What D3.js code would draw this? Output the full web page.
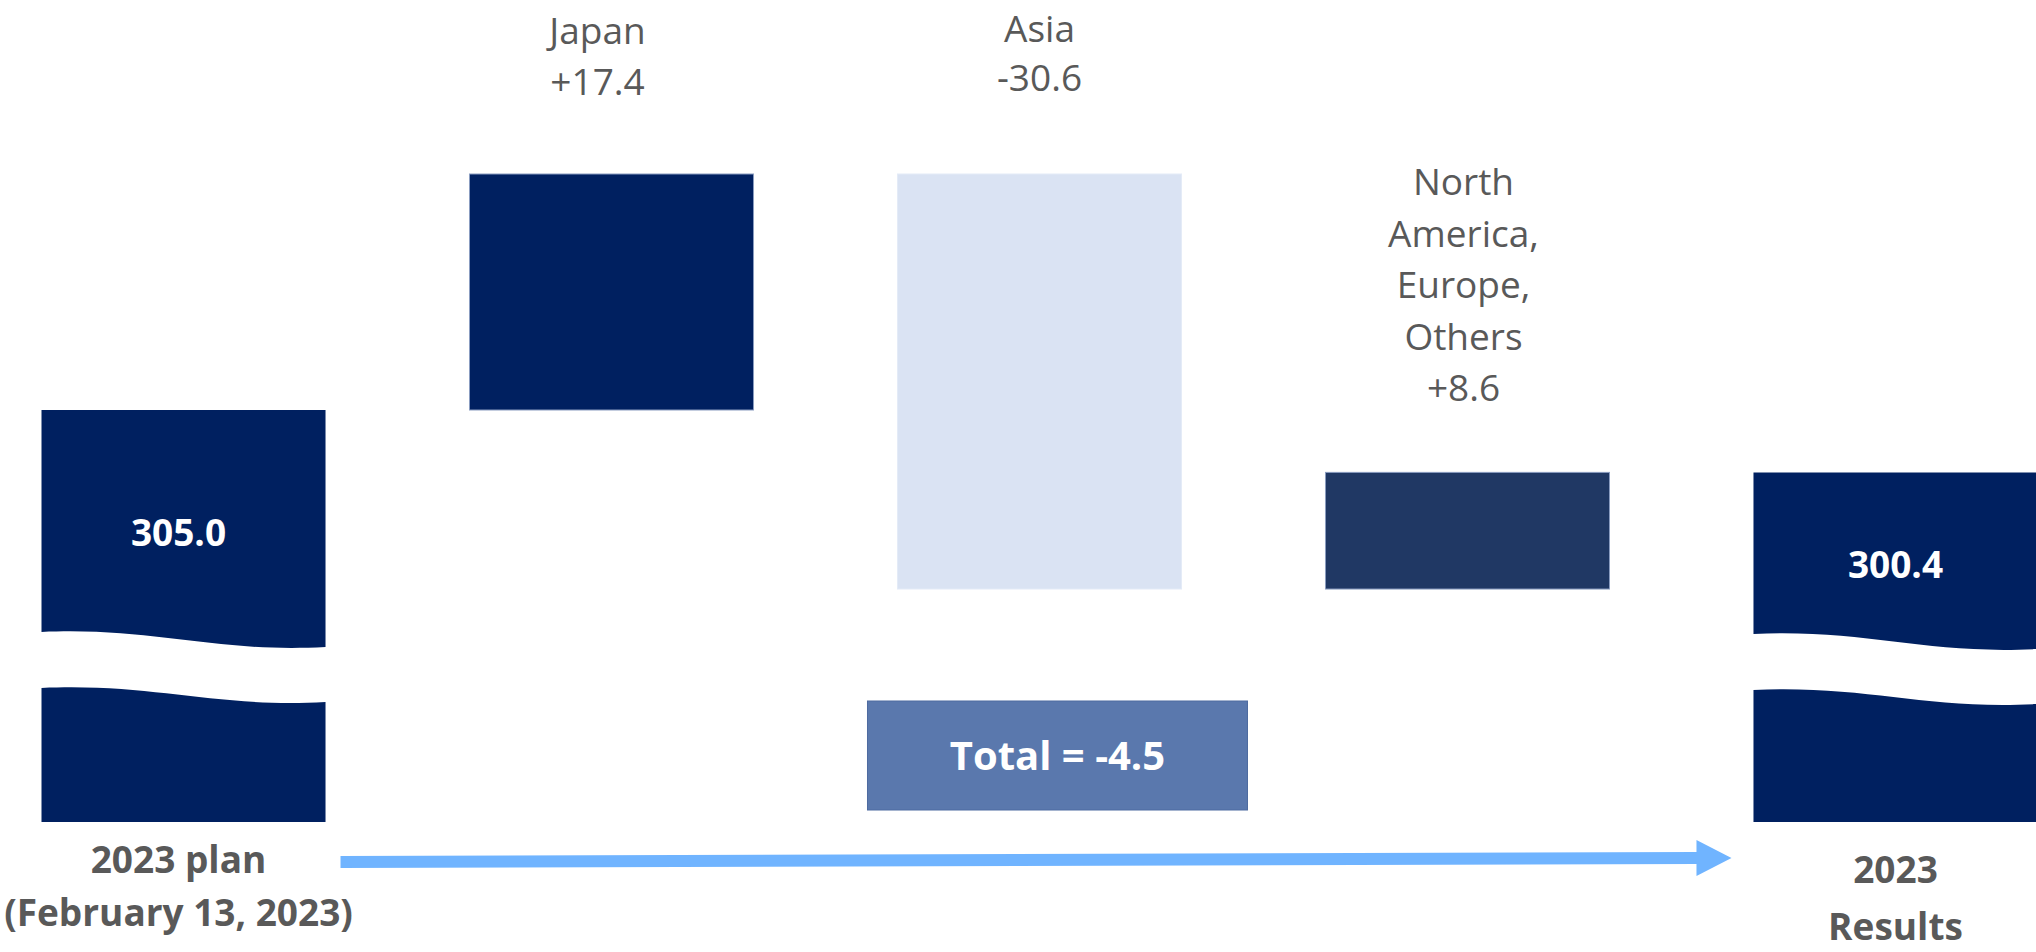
<!DOCTYPE html>
<html>
<head>
<meta charset="utf-8">
<script src="https://cdn.jsdelivr.net/npm/d3@7"></script>
<style>
  html, body { margin: 0; padding: 0; background: #fff; overflow: hidden; }
  svg { display: block; font-family: "Open Sans", sans-serif; }
</style>
</head>
<body>
<div id="container"></div>
<script>
// data
var categories = ['plan', 'Japan', 'Asia', 'Others', 'results']
var planValue = 305.0
var resultValue = 300.4
var deltas = [17.4, -30.6, 8.6]
var deltaLabels = [['Japan', '+17.4'], ['Asia', '-30.6'], ['North', 'America,', 'Europe,', 'Others', '+8.6']]
var endLabels = [['2023 plan', '(February 13, 2023)'], ['2023', 'Results']]
var endValueText = ['305.0', '300.4']
var totalText = 'Total = -4.5'

var width = 2036, height = 952
var svg = d3.select('#container').append('svg').attr('width', width).attr('height', height)

var x = d3.scaleBand().domain(categories).range([41.5, 2037.5]).paddingInner(0.3364).paddingOuter(0)
var y = d3.scaleLinear().domain([305, 322.4]).range([410, 174])
var bw = x.bandwidth()
var baseY = 822 // bottom of the broken bars

var navy = '#002060'
var grey = '#595959'

// running totals for the waterfall
var steps = []
var run = planValue
deltas.forEach(function (d, i) {
  steps.push({ cat: categories[i + 1], from: run, to: run + d, delta: d, label: deltaLabels[i] })
  run += d
})
var stepColors = ['#002060', '#dae3f3', '#203864']
var stepStroke = ['#8a9cc0', '#e4ebf7', '#8a9cc0']

svg.selectAll('rect.step')
  .data(steps)
  .enter()
  .append('rect')
  .attr('class', 'step')
  .attr('x', function (d) { return x(d.cat) })
  .attr('width', bw)
  .attr('y', function (d) { return y(Math.max(d.from, d.to)) })
  .attr('height', function (d) { return Math.abs(y(d.from) - y(d.to)) })
  .attr('fill', function (d, i) { return stepColors[i] })
  .attr('stroke', function (d, i) { return stepStroke[i] })
  .attr('stroke-width', 1)

// labels above the step bars
var nudge = { Japan: [-14, -3], Asia: [0, -7], Others: [-4, 5] }
steps.forEach(function (d) {
  var top = y(Math.max(d.from, d.to))
  var n = nudge[d.cat]
  var cx = x(d.cat) + bw / 2 + n[0]
  var lastBase = top - 76 + n[1]
  var t = svg.append('text')
    .attr('text-anchor', 'middle')
    .attr('fill', grey)
    .attr('font-size', 37)
  d.label.forEach(function (line, i) {
    t.append('tspan')
      .attr('x', cx)
      .attr('y', lastBase - (d.label.length - 1 - i) * (d.cat === 'Asia' ? 49 : 51.5))
      .text(line)
  })
})

// broken bars for plan and results
function wave(p, x0, x1, yL, yR, reverse) {
  var w = x1 - x0
  if (!reverse) {
    p.bezierCurveTo(x0 + w * 0.4, yL - 5, x0 + w * 0.6, yR + 6, x1, yR)
  } else {
    p.bezierCurveTo(x0 + w * 0.6, yR + 6, x0 + w * 0.4, yL - 5, x0, yL)
  }
}

function brokenBar(cat, value, dy) {
  var x0 = x(cat), x1 = x0 + bw
  var top = y(value)
  var up = d3.path()
  up.moveTo(x0, top)
  up.lineTo(x1, top)
  up.lineTo(x1, 647 + dy)
  wave(up, x0, x1, 632 + dy, 647 + dy, true)
  up.closePath()
  var lo = d3.path()
  lo.moveTo(x0, 688 + dy)
  wave(lo, x0, x1, 688 + dy, 702 + dy, false)
  lo.lineTo(x1, baseY)
  lo.lineTo(x0, baseY)
  lo.closePath()
  svg.append('path').attr('d', up.toString()).attr('fill', navy)
  svg.append('path').attr('d', lo.toString()).attr('fill', navy)
  return { cx: x0 + bw / 2, mid: (top + 632 + dy) / 2 }
}

var ends = [
  brokenBar('plan', planValue, 0),
  brokenBar('results', resultValue, 2)
]

ends.forEach(function (e, i) {
  svg.append('text')
    .attr('x', e.cx - (i === 0 ? 5 : 0))
    .attr('y', e.mid + 12 + 13)
    .attr('text-anchor', 'middle')
    .attr('fill', '#fff')
    .attr('font-weight', 700)
    .attr('font-size', 37)
    .text(endValueText[i])
})

// category labels under the broken bars
var endLabelPos = [[873, 53], [883, 57]]
endLabels.forEach(function (lines, i) {
  var cat = i === 0 ? 'plan' : 'results'
  var t = svg.append('text')
    .attr('text-anchor', 'middle')
    .attr('fill', grey)
    .attr('font-weight', 700)
    .attr('font-size', 37)
  lines.forEach(function (line, j) {
    t.append('tspan')
      .attr('x', x(cat) + bw / 2 - (i === 0 ? 5 : 0))
      .attr('y', endLabelPos[i][0] + j * endLabelPos[i][1])
      .text(line)
  })
})

// total box
var tx0 = x('Asia') - 30
svg.append('rect')
  .attr('x', tx0)
  .attr('y', 701)
  .attr('width', 380)
  .attr('height', 109)
  .attr('fill', '#5a78ad')
  .attr('stroke', '#4d6aa0')
  .attr('stroke-width', 1)
svg.append('text')
  .attr('x', tx0 + 190)
  .attr('y', 770)
  .attr('text-anchor', 'middle')
  .attr('fill', '#fff')
  .attr('font-weight', 700)
  .attr('font-size', 40)
  .text(totalText)

// arrow from plan to results
var ax0 = x('plan') + bw + 15
var ax1 = x('results') - 22
var headW = 35
var arrow = d3.path()
arrow.moveTo(ax0, 856)
arrow.lineTo(ax1 - headW, 852)
arrow.lineTo(ax1 - headW, 840)
arrow.lineTo(ax1, 858)
arrow.lineTo(ax1 - headW, 876)
arrow.lineTo(ax1 - headW, 864)
arrow.lineTo(ax0, 868)
arrow.closePath()
svg.append('path').attr('d', arrow.toString()).attr('fill', '#70b4ff')
</script>
</body>
</html>
